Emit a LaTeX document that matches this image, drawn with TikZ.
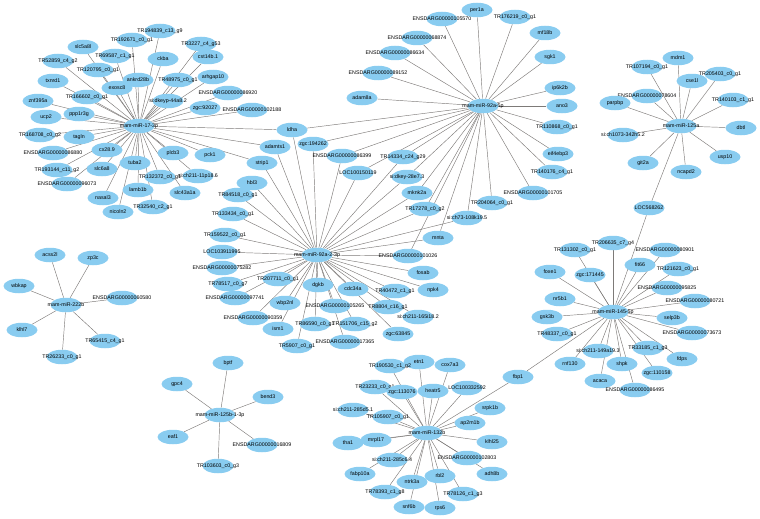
\documentclass[tikz,border=0pt]{standalone}
\usepackage{fontspec}
\setmainfont{Liberation Sans}
\usetikzlibrary{shapes.geometric}
\pgfdeclarelayer{bg}
\pgfsetlayers{bg,main}
\definecolor{nodefill}{RGB}{137,204,240}
\definecolor{edgecol}{RGB}{125,122,120}
\newcommand\nd[4]{\node[ent] (#1) at (#2,#3) {}; \node[lbl] at (#1) {#4};}
\begin{document}
\begin{tikzpicture}[x=1pt,y=-1pt,
  ent/.style={ellipse, fill=nodefill, minimum width=31pt, minimum height=14.5pt, inner sep=0pt},
  lbl/.style={font=\fontsize{5.3}{6}\selectfont, inner sep=0pt, text=black},
  edge/.style={draw=edgecol, line width=0.45pt}]
\useasboundingbox (0,0) rectangle (760,519);
% ---------- cluster mam-miR-17-3p
\nd{h17}{139}{126}{mam-miR-17-3p}
\nd{a1}{160}{31}{TR194839\_c13\_g9}
\nd{a2}{132}{40}{TR192671\_c0\_g1}
\nd{a3}{201}{44}{TR3227\_c4\_g53}
\nd{a4}{83}{47}{slc5a8l}
\nd{a5}{115}{56}{TR69587\_c1\_g1}
\nd{a6}{163}{59}{ckba}
\nd{a7}{208}{57}{cst14b.1}
\nd{a8}{58}{61}{TR52859\_c4\_g2}
\nd{a9}{98}{70}{TR120795\_c0\_g1}
\nd{a10}{138}{80}{ankrd28b}
\nd{a11}{178}{80}{TR48975\_c0\_g1}
\nd{a12}{213}{77}{arhgap10}
\nd{a13}{53}{81}{txnrd1}
\nd{a14}{117}{88}{exosc8}
\nd{a15}{228}{93}{ENSDARG00000086920}
\nd{a16}{87}{97}{TR166602\_c0\_g1}
\nd{a17}{168}{101}{si:dkeyp-44a8.2}
\nd{a18}{38}{101}{znf395a}
\nd{a19}{205}{108}{zgc:92027}
\nd{a20}{252}{110}{ENSDARG00000102188}
\nd{a21}{79}{114}{ppp1r3g}
\nd{a22}{46}{117}{ucp2}
\nd{a23}{40}{135}{TR168708\_c0\_g2}
\nd{a24}{79}{137}{tagln}
\nd{a25}{53}{153}{ENSDARG00000086880}
\nd{a26}{107}{150}{cx28.9}
\nd{a27}{173}{153}{plcb3}
\nd{a28}{210}{155}{pck1}
\nd{a29}{135}{163}{tuba2}
\nd{a30}{102}{169}{slc6a8}
\nd{a31}{57}{170}{TR193144\_c11\_g2}
\nd{a32}{160}{177}{TR132372\_c0\_g1}
\nd{a33}{198}{176}{si:ch211-11p18.6}
\nd{a34}{67}{184}{ENSDARG00000096073}
\nd{a35}{138}{190}{lamb1b}
\nd{a36}{185}{193}{slc43a1a}
\nd{a37}{103}{198}{nasal3}
\nd{a38}{153}{207}{TR32540\_c2\_g1}
\nd{a39}{118}{212}{nicoln2}
% shared
\nd{s1}{292}{130}{ldha}
\nd{s2}{275}{147}{adamts1}
\nd{s3}{262}{163}{strip1}
\nd{s4}{313}{144}{zgc:194262}
\nd{s5}{342}{156}{ENSDARG00000086399}
\nd{s6}{358}{173}{LOC100150119}
\nd{s7}{403}{157}{TR14334\_c24\_g29}
\nd{s8}{407}{177}{si:dkey-28e7.3}
\nd{s9}{417}{193}{mknk2a}
\nd{s10}{425}{209}{TR17278\_c0\_g2}
\nd{s11}{467}{218}{si:ch73-108k19.5}
\nd{s12}{438}{238}{mnta}
\nd{s13}{408}{256}{ENSDARG00000101026}
% ---------- cluster mam-miR-92a-5p
\nd{h92}{483}{106}{mam-miR-92a-5p}
\nd{b1}{442}{19}{ENSDARG00000105570}
\nd{b2}{477}{10}{per1a}
\nd{b3}{515}{17}{TR176219\_c0\_g1}
\nd{b4}{545}{33}{mf18b}
\nd{b5}{550}{57}{sgk1}
\nd{b6}{560}{88}{ip6k2b}
\nd{b7}{562}{106}{ano3}
\nd{b8}{557}{127}{TR110868\_c0\_g1}
\nd{b9}{558}{154}{eif4ebp3}
\nd{b10}{552}{172}{TR140176\_c4\_g1}
\nd{b11}{533}{193}{ENSDARG00000101705}
\nd{b12}{492}{203}{TR204064\_c0\_g1}
\nd{b13}{362}{98}{adam8a}
\nd{b14}{378}{73}{ENSDARG00000089152}
\nd{b15}{395}{53}{ENSDARG00000086634}
\nd{b16}{417}{38}{ENSDARG00000068874}
% ---------- cluster mam-miR-92a-2-3p
\nd{h923}{317}{255}{mam-miR-92a-2-3p}
\nd{c1}{252}{183}{hbl3}
\nd{c2}{238}{195}{TR84518\_c0\_g1}
\nd{c3}{233}{214}{TR133434\_c0\_g1}
\nd{c4}{225}{235}{TR159522\_c0\_g1}
\nd{c5}{222}{252}{LOC103911995}
\nd{c6}{222}{268}{ENSDARG00000075282}
\nd{c7}{228}{284}{TR78517\_c0\_g7}
\nd{c8}{235}{298}{ENSDARG00000097741}
\nd{c9}{253}{318}{ENSDARG00000090359}
\nd{c10}{278}{329}{ism1}
\nd{c11}{285}{303}{wbp2nl}
\nd{c12}{278}{279}{TR207711\_c0\_g1}
\nd{c13}{318}{285}{dgkb}
\nd{c14}{353}{289}{cdc34a}
\nd{c15}{335}{306}{ENSDARG00000105265}
\nd{c16}{315}{324}{TR86590\_c0\_g1}
\nd{c17}{355}{324}{TR151706\_c15\_g2}
\nd{c18}{345}{342}{ENSDARG00000017365}
\nd{c19}{297}{346}{TR5907\_c0\_g1}
\nd{c20}{398}{334}{zgc:63845}
\nd{c21}{418}{317}{si:ch211-165i18.2}
\nd{c22}{388}{307}{TR8804\_c16\_g1}
\nd{c23}{395}{291}{TR40472\_c1\_g1}
\nd{c24}{433}{290}{npk4}
\nd{c25}{423}{273}{fosab}
% ---------- cluster mam-miR-125a
\nd{h125}{681}{126}{mam-miR-125a}
\nd{d1}{678}{58}{mdm1}
\nd{d2}{647}{67}{TR107194\_c0\_g1}
\nd{d3}{692}{81}{cse1l}
\nd{d4}{720}{74}{TR205403\_c0\_g1}
\nd{d5}{647}{96}{ENSDARG00000078604}
\nd{d6}{615}{103}{parpbp}
\nd{d7}{733}{100}{TR140103\_c1\_g1}
\nd{d8}{741}{128}{dbtl}
\nd{d9}{623}{135}{si:ch1073-342h5.2}
\nd{d10}{725}{157}{usp10}
\nd{d11}{643}{163}{git2a}
\nd{d12}{686}{172}{ncapd2}
\nd{d13}{649}{208}{LOC568262}
% ---------- cluster mam-miR-145-5p
\nd{h145}{613}{312}{mam-miR-145-5p}
\nd{e1}{613}{243}{TR206635\_c7\_g4}
\nd{e2}{665}{250}{ENSDARG00000080901}
\nd{e3}{640}{265}{fit66}
\nd{e4}{678}{269}{TR121623\_c0\_g1}
\nd{e5}{667}{288}{ENSDARG00000095825}
\nd{e6}{695}{301}{ENSDARG00000080721}
\nd{e7}{672}{318}{selp3b}
\nd{e8}{692}{333}{ENSDARG00000073673}
\nd{e9}{590}{275}{zgc:171445}
\nd{e10}{575}{250}{TR131302\_c0\_g1}
\nd{e11}{550}{272}{foxe1}
\nd{e12}{560}{299}{nr5b1}
\nd{e13}{547}{317}{gsk3b}
\nd{e14}{557}{334}{TR48337\_c0\_g1}
\nd{e15}{598}{351}{si:ch211-149a19.3}
\nd{e16}{570}{364}{rnf130}
\nd{e17}{600}{381}{acaca}
\nd{e18}{622}{364}{shpk}
\nd{e19}{635}{390}{ENSDARG00000086495}
\nd{e20}{648}{348}{TR33185\_c1\_g3}
\nd{e21}{657}{373}{zgc:110158}
\nd{e22}{682}{359}{fdps}
\nd{e23}{518}{377}{fbp1}
% ---------- cluster mam-miR-132b
\nd{h132}{427}{433}{mam-miR-132b}
\nd{f1}{419}{362}{etn1}
\nd{f2}{450}{365}{cox7a3}
\nd{f3}{390}{366}{TR190530\_c1\_g2}
\nd{f4}{375}{387}{TR23233\_c0\_g1}
\nd{f5}{402}{392}{zgc:113076}
\nd{f6}{433}{391}{heatr5}
\nd{f7}{467}{388}{LOC100332592}
\nd{f8}{353}{410}{si:ch211-285d5.1}
\nd{f9}{388}{417}{TR105907\_c0\_g1}
\nd{f10}{490}{408}{srpk1b}
\nd{f11}{470}{423}{ap2m1b}
\nd{f12}{492}{442}{klhl25}
\nd{f13}{376}{440}{mrpl17}
\nd{f14}{348}{443}{tha1}
\nd{f15}{392}{460}{si:ch211-285c6.4}
\nd{f16}{360}{474}{fabp10a}
\nd{f17}{385}{492}{TR78393\_c1\_g8}
\nd{f18}{467}{458}{ENSDARG00000102803}
\nd{f19}{492}{474}{adh8b}
\nd{f20}{412}{482}{ntrk3a}
\nd{f21}{440}{476}{rbl2}
\nd{f22}{463}{494}{TR78126\_c1\_g3}
\nd{f23}{409}{507}{snf6b}
\nd{f24}{440}{508}{rps6}
% ---------- cluster mam-miR-222b
\nd{h222}{66}{305}{mam-miR-222b}
\nd{g1}{50}{255}{acss2l}
\nd{g2}{93}{258}{zp3c}
\nd{g3}{19}{286}{wbkap}
\nd{g4}{122}{298}{ENSDARG00000060580}
\nd{g5}{22}{330}{klhl7}
\nd{g6}{105}{341}{TR65415\_c4\_g1}
\nd{g7}{62}{357}{TR26233\_c0\_g1}
% ---------- cluster mam-miR-125b-1-3p
\nd{h125b}{220}{415}{mam-miR-125b-1-3p}
\nd{k1}{228}{363}{bptf}
\nd{k2}{268}{397}{bend3}
\nd{k3}{262}{445}{ENSDARG00000016809}
\nd{k4}{218}{466}{TR103603\_c0\_g3}
\nd{k5}{177}{384}{gpc4}
\nd{k6}{173}{437}{eaf1}
% ---------- edges
\begin{pgfonlayer}{bg}
\foreach \t in {a1,a2,a3,a4,a5,a6,a7,a8,a9,a10,a11,a12,a13,a14,a15,a16,a17,a18,a19,a20,a21,a22,a23,a24,a25,a26,a27,a28,a29,a30,a31,a32,a33,a34,a35,a36,a37,a38,a39,s1,s2,s3}
  \draw[edge] (h17) -- (\t);
\foreach \t in {b1,b2,b3,b4,b5,b6,b7,b8,b9,b10,b11,b12,b13,b14,b15,b16,s1,s4,s5,s6,s7,s8,s9,s10,s11,s12,s13}
  \draw[edge] (h92) -- (\t);
\foreach \t in {c1,c2,c3,c4,c5,c6,c7,c8,c9,c10,c11,c12,c13,c14,c15,c16,c17,c18,c19,c20,c21,c22,c23,c24,c25,s1,s2,s3,s4,s5,s6,s7,s8,s9,s10,s11,s12,s13}
  \draw[edge] (h923) -- (\t);
\foreach \t in {d1,d2,d3,d4,d5,d6,d7,d8,d9,d10,d11,d12,d13}
  \draw[edge] (h125) -- (\t);
\foreach \t in {e1,e2,e3,e4,e5,e6,e7,e8,e9,e10,e11,e12,e13,e14,e15,e16,e17,e18,e19,e20,e21,e22,e23,d13}
  \draw[edge] (h145) -- (\t);
\foreach \t in {f1,f2,f3,f4,f5,f6,f7,f8,f9,f10,f11,f12,f13,f14,f15,f16,f17,f18,f19,f20,f21,f22,f23,f24,e23}
  \draw[edge] (h132) -- (\t);
\foreach \t in {g1,g2,g3,g4,g5,g6,g7}
  \draw[edge] (h222) -- (\t);
\foreach \t in {k1,k2,k3,k4,k5,k6}
  \draw[edge] (h125b) -- (\t);
\end{pgfonlayer}
\end{tikzpicture}
\end{document}
